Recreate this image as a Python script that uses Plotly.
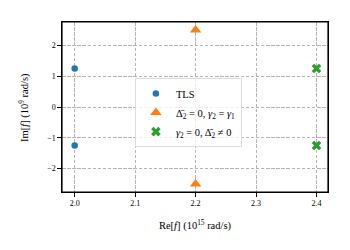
import plotly.graph_objects as go

tls_re = [2.0, 2.0]
tls_im = [1.25, -1.25]
case1_re = [2.2, 2.2]
case1_im = [2.5, -2.5]
case2_re = [2.4, 2.4]
case2_im = [1.25, -1.25]

x_ticks = [2.0, 2.1, 2.2, 2.3, 2.4]
x_ticklabels = ["2.0", "2.1", "2.2", "2.3", "2.4"]
y_ticks = [-2, -1, 0, 1, 2]
y_ticklabels = ["−2", "−1", "0", "1", "2"]

font = "Liberation Serif"

fig = go.Figure()
fig.add_trace(go.Scatter(x=tls_re, y=tls_im, mode="markers", name="TLS",
                         marker=dict(symbol="circle", size=6.5, color="#1f77b4")))
fig.add_trace(go.Scatter(x=case1_re, y=case1_im, mode="markers",
                         name="Δ\u0304<sub>2</sub> = 0, <i>γ</i><sub>2</sub> = <i>γ</i><sub>1</sub>",
                         marker=dict(symbol="triangle-up", size=10, color="#ff7f0e")))
fig.add_trace(go.Scatter(x=case2_re, y=case2_im, mode="markers",
                         name="<i>γ</i><sub>2</sub> = 0, Δ\u0304<sub>2</sub> ≠ 0",
                         marker=dict(symbol="x", size=8.5, color="#2ca02c", line=dict(width=0))))

axis_common = dict(showline=True, linecolor="black", linewidth=1.2, mirror=True,
                   ticks="outside", ticklen=3.5, tickcolor="black", tickwidth=1,
                   showgrid=True, gridcolor="#b4b4b4", griddash="3.5px,1.6px", gridwidth=1,
                   zeroline=False, automargin=False,
                   tickfont=dict(family=font, size=8, color="black"))

fig.update_layout(
    width=334, height=234,
    margin=dict(l=54, r=14, t=14, b=50, autoexpand=False),
    paper_bgcolor="white", plot_bgcolor="white",
    font=dict(family=font, size=10, color="black"),
    xaxis=dict(range=[1.979, 2.419], tickvals=x_ticks, ticktext=x_ticklabels,
               title=dict(text="Re[<i>f</i>] (10<sup>15</sup> rad/s)", standoff=14,
                          font=dict(family=font, size=10.5)),
               **axis_common),
    yaxis=dict(range=[-2.76, 2.76], tickvals=y_ticks, ticktext=y_ticklabels,
               **axis_common),
    legend=dict(x=0.274, y=0.67, xanchor="left", yanchor="top",
                bgcolor="rgba(255,255,255,0.8)", bordercolor="#dcdcdc", borderwidth=1,
                font=dict(family=font, size=10.5),
                tracegroupgap=0),
    showlegend=True,
    annotations=[dict(text="Im[<i>f</i>] (10<sup>9</sup> rad/s)", textangle=-90,
                      xref="paper", yref="paper", x=-0.143, y=0.5,
                      xanchor="center", yanchor="middle", showarrow=False,
                      font=dict(family=font, size=10.5, color="black"))],
    shapes=[dict(type="rect", xref="paper", yref="paper", x0=0, y0=0, x1=1, y1=1,
                 line=dict(color="black", width=1.2), layer="above")],
)

fig.write_html("out.html")
